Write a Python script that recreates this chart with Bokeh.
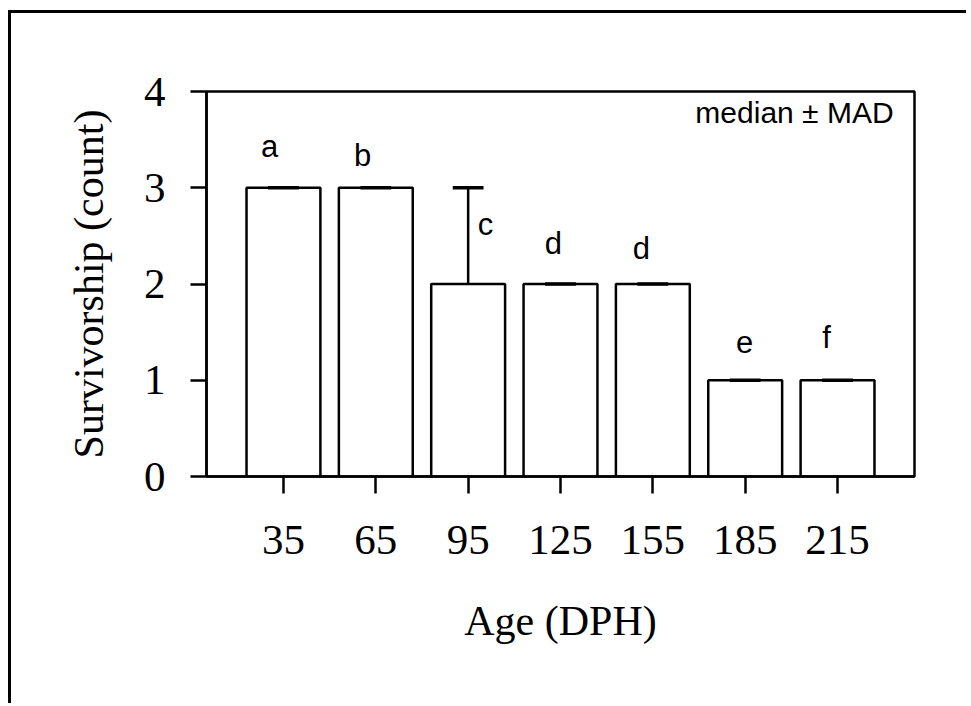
from bokeh.plotting import figure
from bokeh.models import FixedTicker, Range1d, Label, ColumnDataSource
from bokeh.embed import file_html
from bokeh.resources import INLINE
from bokeh.core.properties import value

# ---- data ----
ages = [35, 65, 95, 125, 155, 185, 215]
median = [3, 3, 2, 2, 2, 1, 1]
mad = [0, 0, 1, 0, 0, 0, 0]
letters = ["a", "b", "c", "d", "d", "e", "f"]
letter_x = [30.5, 60.7, 100.6, 122.7, 151.3, 184.8, 211.4]
letter_y = [3.43, 3.34, 2.62, 2.42, 2.37, 1.40, 1.44]
y_ticks = [0, 1, 2, 3, 4]

BAR_W = 24
CAP_W = 10
LW = 2.5

upper = [m + d for m, d in zip(median, mad)]
src = ColumnDataSource(dict(
    x=ages, top=median, upper=upper,
    cl=[a - CAP_W / 2 for a in ages], cr=[a + CAP_W / 2 for a in ages],
))

p = figure(width=958, height=693, x_range=Range1d(10, 240), y_range=Range1d(0, 4),
           output_backend="svg", toolbar_location=None,
           min_border_left=195, min_border_right=55, min_border_top=78, min_border_bottom=230)
p.styles = {"border-top": "3px solid black", "border-left": "3px solid black",
            "margin-left": "8px", "margin-top": "10px"}

p.grid.visible = False
p.outline_line_color = "black"
p.outline_line_width = LW
p.background_fill_color = "white"
p.border_fill_color = "white"

p.vbar(x="x", top="top", bottom=0, width=BAR_W, source=src,
       fill_color="white", line_color="black", line_width=LW)
p.segment(x0="x", y0="top", x1="x", y1="upper", source=src, line_color="black", line_width=LW)
p.segment(x0="cl", y0="upper", x1="cr", y1="upper", source=src, line_color="black", line_width=3.5)

p.text(x=letter_x, y=letter_y, text=letters, text_font=value("Liberation Sans"),
       text_font_size="31px", text_align="center", text_baseline="middle", text_color="black")

p.add_layout(Label(x=233.2, y=3.78, text="median ± MAD", text_font="Liberation Sans",
                   text_font_size="30px", text_align="right", text_baseline="middle",
                   text_color="black"))

for ax in (p.xaxis[0], p.yaxis[0]):
    ax.axis_line_width = LW
    ax.axis_line_color = "black"
    ax.major_tick_line_width = LW
    ax.major_tick_line_color = "black"
    ax.major_tick_in = 0
    ax.major_tick_out = 16
    ax.minor_tick_line_color = None
    ax.major_label_text_font = "Liberation Serif"
    ax.major_label_text_font_size = "43px"
    ax.major_label_text_color = "black"
    ax.axis_label_text_font = "Liberation Serif"
    ax.axis_label_text_font_size = "42px"
    ax.axis_label_text_font_style = "normal"
    ax.axis_label_text_color = "black"

p.xaxis.ticker = FixedTicker(ticks=ages)
p.yaxis.ticker = FixedTicker(ticks=y_ticks)
p.xaxis.major_tick_out = 17
p.xaxis.major_label_standoff = 32
p.yaxis.major_label_standoff = 25
p.xaxis.axis_label = "Age (DPH)"
p.yaxis.axis_label = "Survivorship (count)"
p.xaxis.axis_label_standoff = 41
p.yaxis.axis_label_standoff = 29

open("out.html", "w").write(file_html(p, INLINE))
